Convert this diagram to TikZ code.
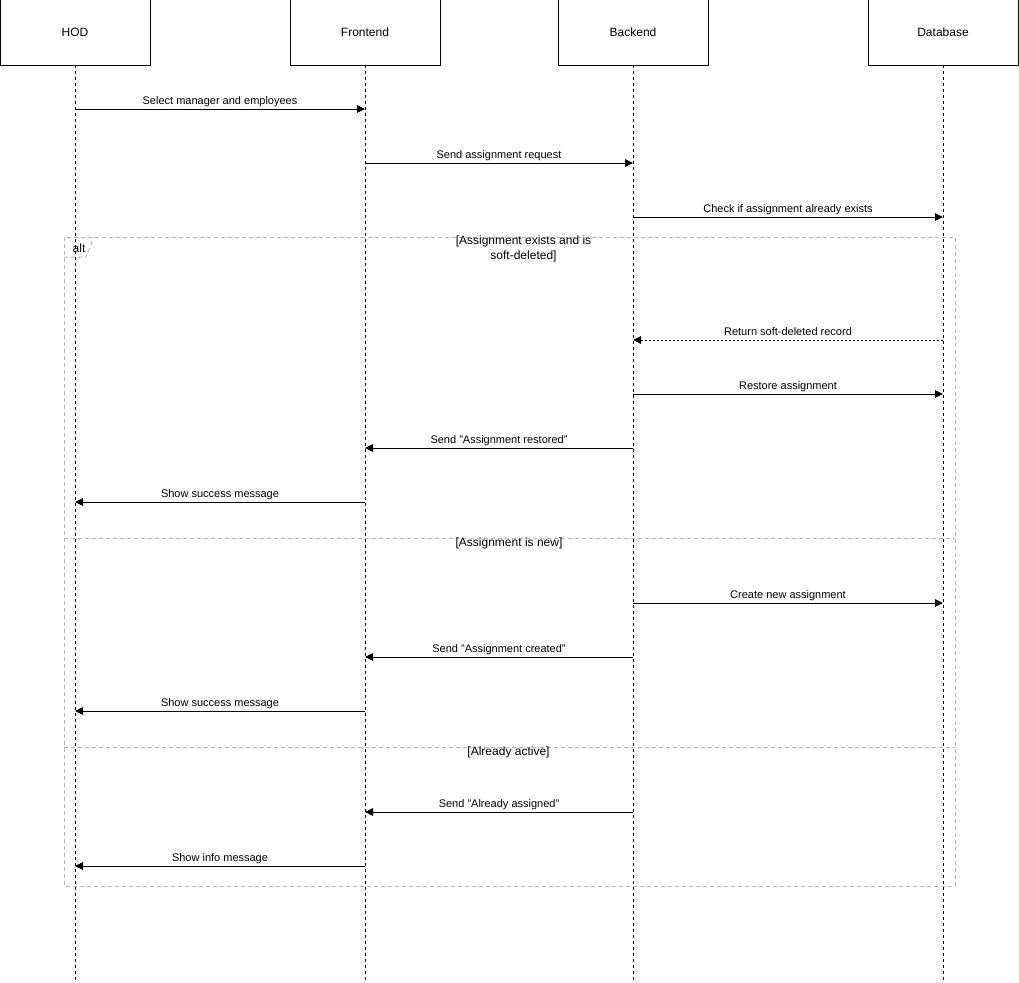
\documentclass[tikz,border=0pt]{standalone}
\usepackage{fontspec}
\setmainfont{Liberation Sans}
\usetikzlibrary{arrows.meta, positioning}
\definecolor{FrameGray}{HTML}{B3B3B3}

\begin{document}
\begin{tikzpicture}[
    x=1pt, y=-1pt,
    actor/.style={draw, line width=1pt, minimum width=150pt, minimum height=65pt, inner sep=0pt, outer sep=0pt, font=\fontsize{12}{14}\selectfont},
    life/.style={line width=1pt, dash pattern=on 3pt off 3pt},
    msg/.style={-{Triangle[length=8pt, width=7.5pt]}, line width=1pt},
    reply/.style={msg, dash pattern=on 2pt off 2pt},
    lbl/.style={midway, anchor=base, yshift=5pt, inner sep=0pt, font=\fontsize{11}{13}\selectfont},
    frame/.style={draw=FrameGray, line width=1pt, dash pattern=on 4pt off 3pt},
    guard/.style={inner sep=0pt, align=center, font=\fontsize{12}{15}\selectfont}
]
    \useasboundingbox (0,0) rectangle (1019,982);

    % participants
    \node[actor] (hod) at (75,32.5) {HOD};
    \node[actor, right=140pt of hod] (front) {Frontend};
    \node[actor, right=118pt of front] (back) {Backend};
    \node[actor, right=160pt of back] (db) {Database};

    % lifelines
    \coordinate (hodEnd) at (hod |- 0,982);
    \coordinate (frontEnd) at (front |- 0,982);
    \coordinate (backEnd) at (back |- 0,982);
    \coordinate (dbEnd) at (db |- 0,982);
    \draw[life] (hod.south) -- (hodEnd);
    \draw[life] (front.south) -- (frontEnd);
    \draw[life] (back.south) -- (backEnd);
    \draw[life] (db.south) -- (dbEnd);

    % alt frame
    \draw[frame] (64,237) rectangle (955,886);
    \draw[frame] (64,257) -- (86,257) -- (94,237);
    \node[inner sep=0pt, anchor=base, font=\fontsize{12}{14}\selectfont] (altlbl) at (79,252) {alt};
    \draw[frame] (64,538) -- (955,538);
    \draw[frame] (64,747) -- (955,747);
    \node[guard, anchor=north] (g1) at (523.5,236) {[Assignment exists and is\\soft-deleted]};
    \node[guard, anchor=base] (g2) at (509,546) {[Assignment is new]};
    \node[guard, anchor=base] (g3) at (508.5,755) {[Already active]};

    % messages
    \draw[msg] (hod |- 0,109) -- node[lbl] {Select manager and employees} (front |- 0,109);
    \draw[msg] (front |- 0,163) -- node[lbl] {Send assignment request} (back |- 0,163);
    \draw[msg] (back |- 0,217) -- node[lbl] {Check if assignment already exists} (db |- 0,217);

    \draw[reply] (db |- 0,340) -- node[lbl] {Return soft-deleted record} (back |- 0,340);
    \draw[msg] (back |- 0,394) -- node[lbl] {Restore assignment} (db |- 0,394);
    \draw[msg] (back |- 0,448) -- node[lbl] {Send "Assignment restored"} (front |- 0,448);
    \draw[msg] (front |- 0,502) -- node[lbl] {Show success message} (hod |- 0,502);

    \draw[msg] (back |- 0,603) -- node[lbl] {Create new assignment} (db |- 0,603);
    \draw[msg] (back |- 0,657) -- node[lbl] {Send "Assignment created"} (front |- 0,657);
    \draw[msg] (front |- 0,711) -- node[lbl] {Show success message} (hod |- 0,711);

    \draw[msg] (back |- 0,812) -- node[lbl] {Send "Already assigned"} (front |- 0,812);
    \draw[msg] (front |- 0,866) -- node[lbl] {Show info message} (hod |- 0,866);
\end{tikzpicture}
\end{document}
